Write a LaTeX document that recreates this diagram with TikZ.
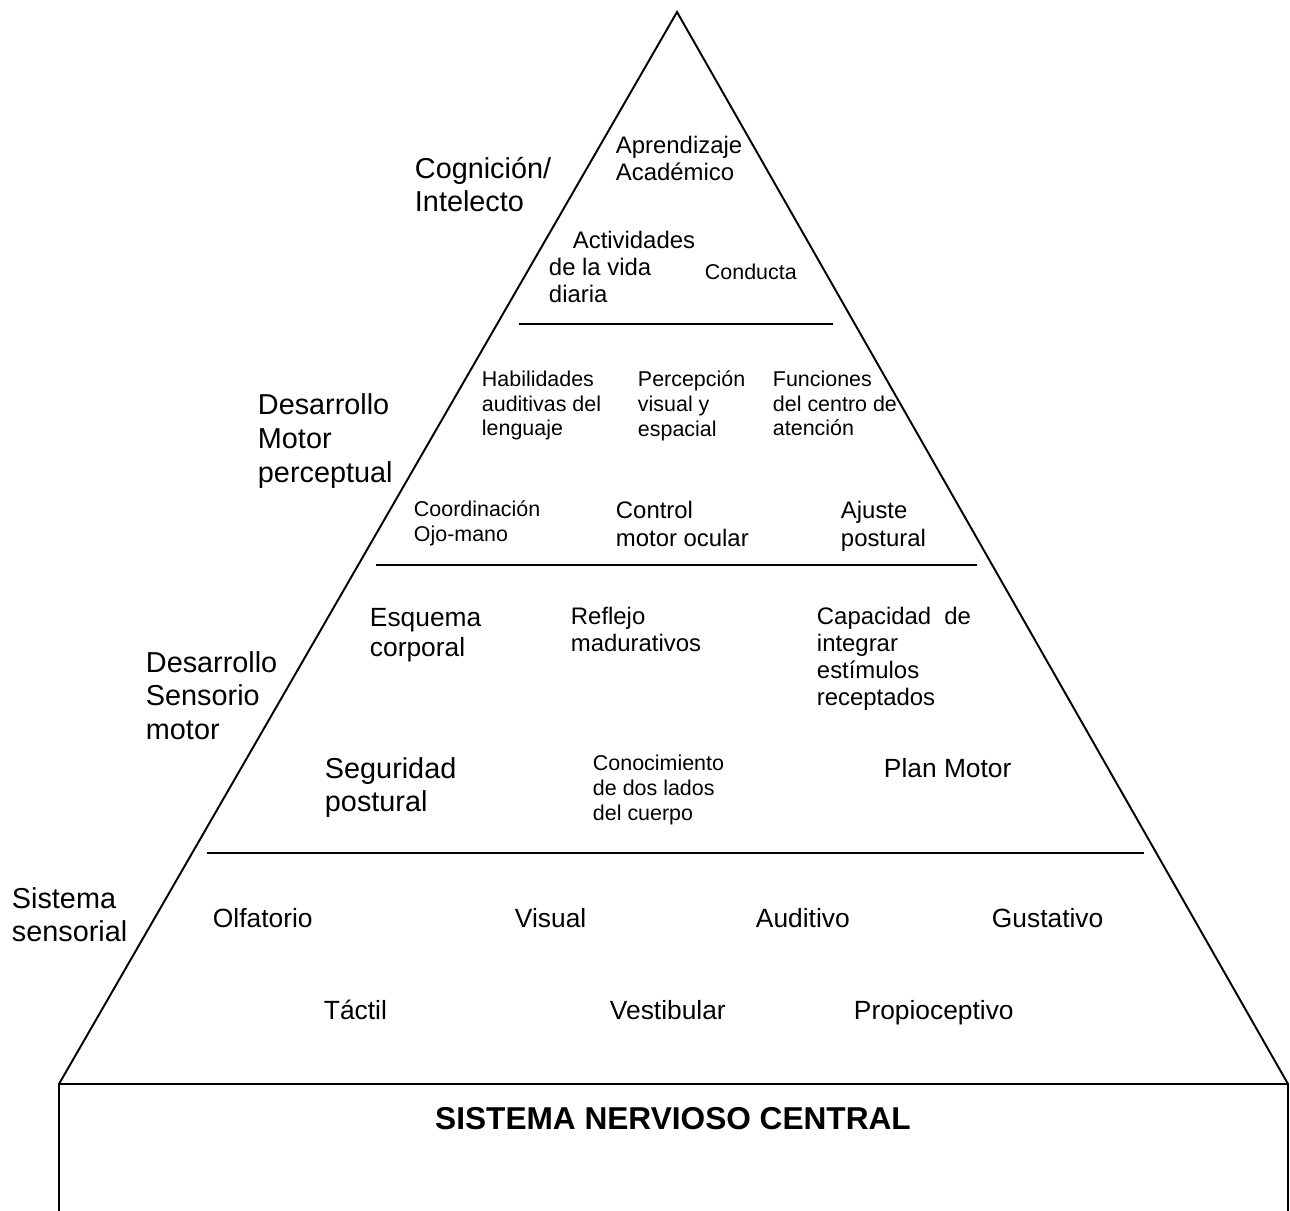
\documentclass[tikz,border=0pt]{standalone}
\usepackage{fontspec}
\setmainfont{Liberation Sans}
\usepackage{tikz}

\begin{document}
\begin{tikzpicture}[x=0.02cm, y=-0.02cm, line width=1.1pt,
		lbl/.style={anchor=west, inner sep=0pt, align=left, yshift=-0.05cm,
			execute at begin node=\strut, execute at end node=\strut},
		big/.style={lbl, font=\fontsize{16.4}{19.2}\selectfont},
		sens/.style={lbl, font=\fontsize{15}{17}\selectfont},
		mid/.style={lbl, font=\fontsize{13.6}{15.5}\selectfont},
		small/.style={lbl, font=\fontsize{12.2}{14.2}\selectfont}]
		\useasboundingbox (0,0) rectangle (1290,1210);
		\coordinate (apex) at (677,12);
		\coordinate (bl) at (59,1084);
		\coordinate (br) at (1288,1084);
		\coordinate (bbl) at (59,1212);
		\coordinate (bbr) at (1288,1212);
		\draw (bl) -- (apex) -- (br);
		\draw (bbl) -- (bl) -- (br) -- (bbr);
		\coordinate (l1a) at (519,324);
		\coordinate (l1b) at (833,324);
		\coordinate (l2a) at (376,565);
		\coordinate (l2b) at (977,565);
		\coordinate (l3a) at (207,853);
		\coordinate (l3b) at (1144,853);
		\draw (l1a) -- (l1b);
		\draw (l2a) -- (l2b);
		\draw (l3a) -- (l3b);
		\node[big] (cog) at (414,187) {Cognición/\\Intelecto};
		\node[mid] (aprend) at (615,160) {Aprendizaje\\Académico};
		\node[mid] (activ) at (548,268.5) {\hspace*{13.6pt}Actividades\\de la vida\\diaria};
		\node[small] (conducta) at (704,272) {Conducta};
		\node[big] (desmp) at (257,440.5) {Desarrollo\\Motor\\perceptual};
		\node[small] (habil) at (481,404.5) {Habilidades\\auditivas del\\lenguaje};
		\node[small] (percep) at (637,404.5) {Percepción\\visual y\\espacial};
		\node[small] (func) at (772,404.5) {Funciones\\del centro de\\atención};
		\node[small] (coord) at (413,522) {Coordinación\\Ojo-mano};
		\node[mid] (control) at (615,525.5) {Control\\motor ocular};
		\node[mid] (ajuste) at (840,525.5) {Ajuste\\postural};
		\node[big] (dessm) at (145,698) {Desarrollo\\Sensorio\\motor};
		\node[sens] (esquema) at (369,634) {Esquema\\corporal};
		\node[mid] (reflejo) at (570,631) {Reflejo\\madurativos};
		\node[mid] (capac) at (816,658) {Capacidad~ de\\integrar\\estímulos\\receptados};
		\node[big] (segur) at (324,787) {Seguridad\\postural};
		\node[small] (conoc) at (592,789) {Conocimiento\\de dos lados\\del cuerpo};
		\node[sens] (plan) at (883,769) {Plan Motor};
		\node[big] (sistema) at (11,917) {Sistema\\sensorial};
		\node[sens] (olf) at (212,919) {Olfatorio};
		\node[sens] (visual) at (514,919) {Visual};
		\node[sens] (audit) at (755,919) {Auditivo};
		\node[sens] (gust) at (991,919) {Gustativo};
		\node[sens] (tactil) at (323,1011) {Táctil};
		\node[sens] (vest) at (609,1011) {Vestibular};
		\node[sens] (propio) at (853,1011) {Propioceptivo};
		\node[inner sep=0pt, font=\fontsize{18}{21}\selectfont\bfseries] (snc) at (673,1119) {SISTEMA NERVIOSO CENTRAL};
	\end{tikzpicture}
\end{document}
